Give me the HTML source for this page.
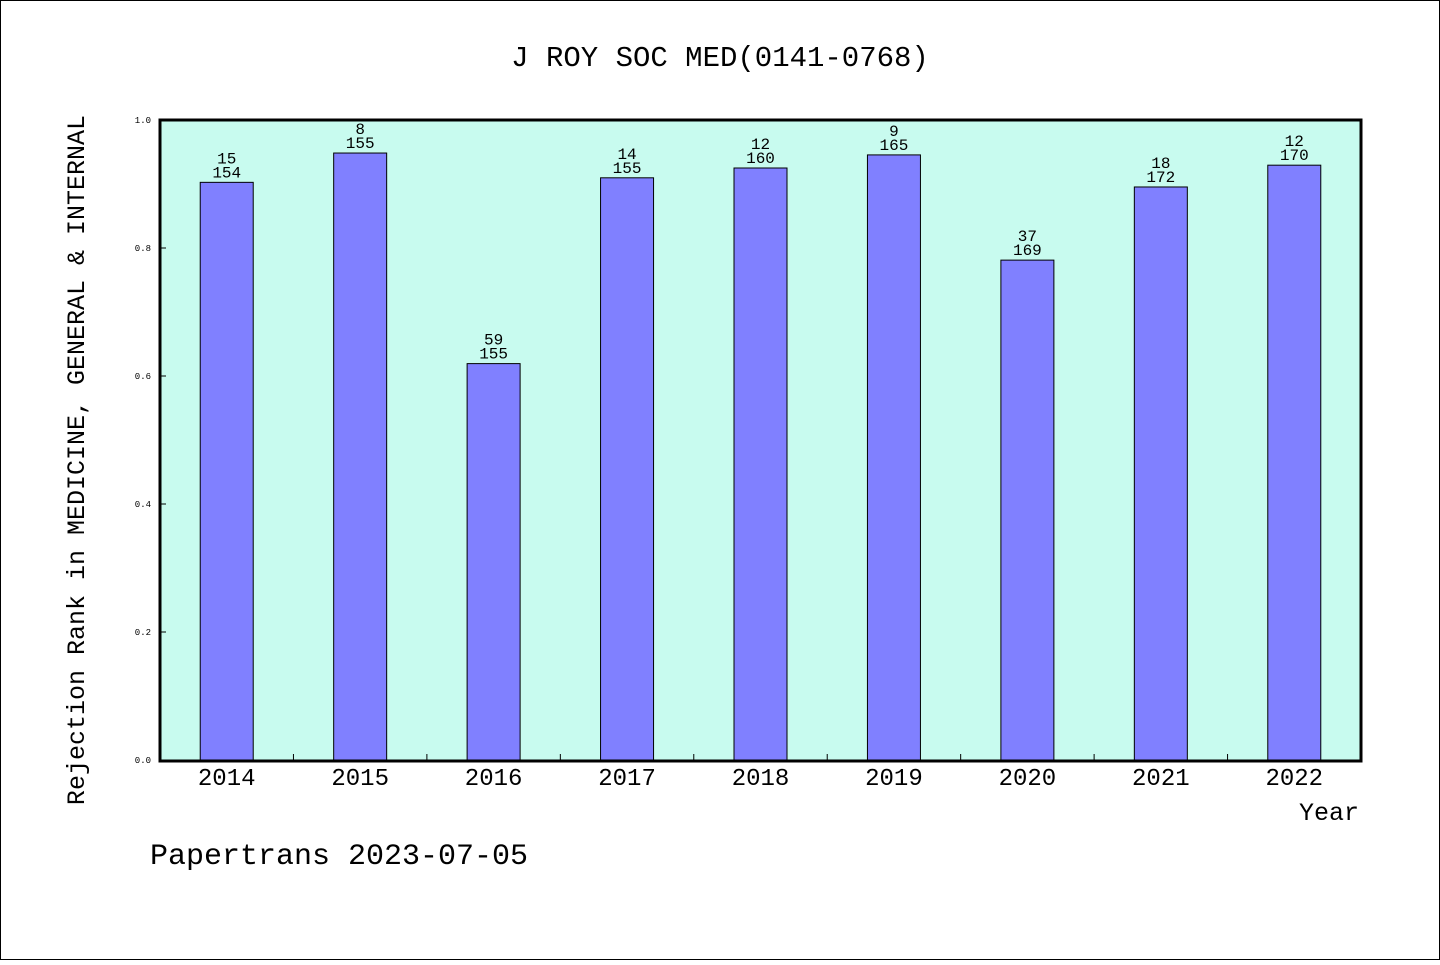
<!DOCTYPE html>
<html><head><meta charset="utf-8"><style>
body{margin:0;background:#fff}
svg text{font-family:"Liberation Mono","WenQuanYi Zen Hei",monospace;fill:#000}
</style></head><body>
<svg width="1440" height="960" viewBox="0 0 1440 960" xmlns="http://www.w3.org/2000/svg">
<rect x="0.5" y="0.5" width="1439" height="959" fill="#fff" stroke="#000"/>
<text x="720" y="66" font-size="29" text-anchor="middle">J ROY SOC MED(0141-0768)</text>
<rect x="160" y="120" width="1201" height="641" fill="#c8fbef"/>
<g id="bars"></g>
<g id="axes"></g>
<rect x="160" y="120" width="1201" height="641" fill="none" stroke="#000" stroke-width="3"/>
<text transform="translate(84,460) rotate(-90)" font-size="25" text-anchor="middle">Rejection Rank in MEDICINE, GENERAL &amp; INTERNAL</text>
<text x="1359" y="820" font-size="25" text-anchor="end">Year</text>
<text x="150" y="864" font-size="30">Papertrans 2023-07-05</text>
</svg>
<script>
const years = ["2014","2015","2016","2017","2018","2019","2020","2021","2022"];
const ranks = [15,8,59,14,12,9,37,18,12];
const totals = [154,155,155,155,160,165,169,172,170];
const yTicks = ["0.0","0.2","0.4","0.6","0.8","1.0"];

const NS="http://www.w3.org/2000/svg";
const X0=160,X1=1361,Y0=760,Y1=120;
const step=(X1-X0)/years.length;
const xc=i=>X0+step*(i+0.5);
const ys=v=>Y0-(Y0-Y1)*v;
function mk(t,a,p){const e=document.createElementNS(NS,t);for(const k in a)e.setAttribute(k,a[k]);p.appendChild(e);return e;}
const bars=document.getElementById('bars'),axes=document.getElementById('axes');
years.forEach((y,i)=>{
  const v=1-ranks[i]/totals[i];
  const r=mk('rect',{x:xc(i)-26.5,y:ys(v),width:53,height:Y0-ys(v),fill:'#8080ff',stroke:'#000','stroke-width':1},bars);
  
  
  const t1=mk('text',{x:xc(i),y:ys(v)-19,'font-size':16,'text-anchor':'middle'},bars);
  t1.textContent=ranks[i];
  
  
  const t2=mk('text',{x:xc(i),y:ys(v)-5,'font-size':16,'text-anchor':'middle'},bars);
  t2.textContent=totals[i];
  
  
  const xl=mk('text',{x:xc(i),y:785,'font-size':24,'text-anchor':'middle'},axes);
  xl.textContent=y;
  
  
  if(i>0){const tk=mk('line',{x1:X0+step*i,x2:X0+step*i,y1:Y0,y2:Y0-6,stroke:'#000'},axes);
  
  }
});
yTicks.forEach(l=>{
  const v=parseFloat(l);
  const tk=mk('line',{x1:X0,x2:X0+6,y1:ys(v),y2:ys(v),stroke:'#000'},axes);
  
  
  const t=mk('text',{x:151,y:ys(v)+3,'font-size':9,'text-anchor':'end'},axes);
  t.textContent=l;
  
  
});
</script>
</body></html>
